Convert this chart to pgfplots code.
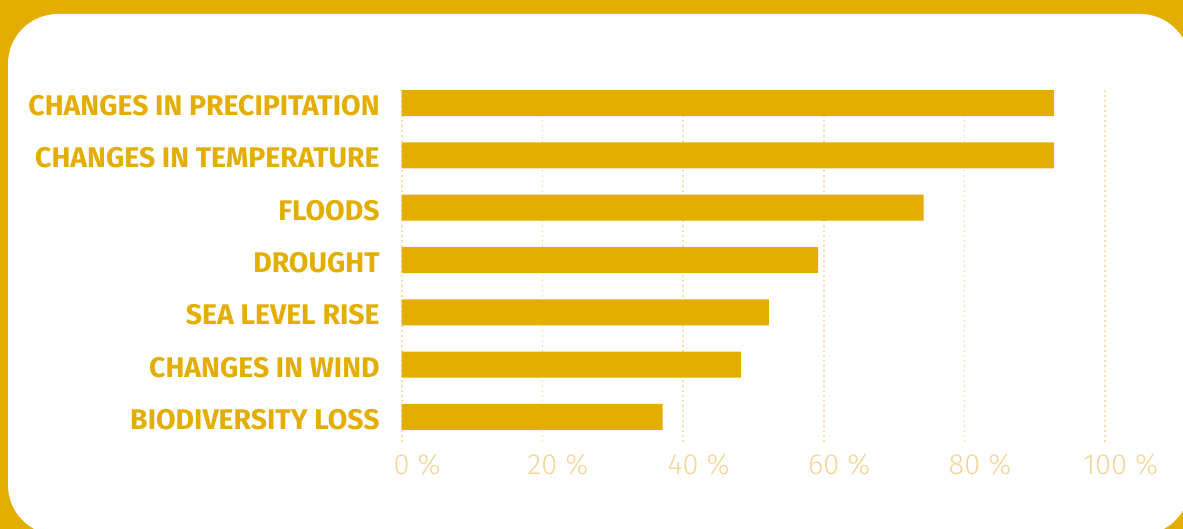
\documentclass[border=0pt]{standalone}
\usepackage{pgfplots}
\pgfplotsset{compat=1.18}
\usepackage{fontspec}
\setmainfont{Fira Sans}
\newfontfamily\ticklight{Fira Sans Light}
\definecolor{gold}{HTML}{E3AE00}
\definecolor{pale}{HTML}{F3D698}
\definecolor{gridc}{HTML}{F6DDA9}

\begin{document}
\begin{tikzpicture}[x=0.5pt,y=0.5pt]
\useasboundingbox (0,0) rectangle (1183,529);
\clip (0,0) rectangle (1183,529);
\fill[gold] (0,0) rectangle (1183,529);
\fill[white,rounded corners=25pt] (8,-6) rectangle (1190,515);
\begin{axis}[
  at={(200.85pt,43.5pt)}, anchor=south west,
  width=351.75pt, height=176pt, scale only axis,
  xbar, bar width=13pt, bar shift=0pt,
  xmin=0, xmax=100, ymin=-0.478, ymax=6.249,
  xtick={0,20,40,60,80,100},
  xticklabels={0\rlap{\ \%},20\rlap{\ \%},40\rlap{\ \%},60\rlap{\ \%},80\rlap{\ \%},100\rlap{\ \%}},
  ytick={0,1,2,3,4,5,6},
  yticklabels={BIODIVERSITY LOSS,CHANGES IN WIND,SEA LEVEL RISE,DROUGHT,FLOODS,CHANGES IN TEMPERATURE,CHANGES IN PRECIPITATION},
  axis line style={draw=none},
  major tick length=0pt,
  xmajorgrids,
  grid style={gridc, line width=0.85pt, dash pattern=on 0.9pt off 1.6pt},
  yticklabel style={font=\bfseries\fontsize{14.2}{15}\selectfont, text=gold, anchor=east, inner sep=0pt, xshift=-10.85pt, yshift=-1.3pt},
  xticklabel style={font=\ticklight\fontsize{14.5}{15}\selectfont, text=pale, anchor=north, inner sep=0pt, yshift=-6pt},
]
\addplot[fill=gold, draw=none] coordinates {
  (37.1,0)
  (48.2,1)
  (52.2,2)
  (59.2,3)
  (74.2,4)
  (92.7,5)
  (92.7,6)
};
\end{axis}
\end{tikzpicture}
\end{document}
